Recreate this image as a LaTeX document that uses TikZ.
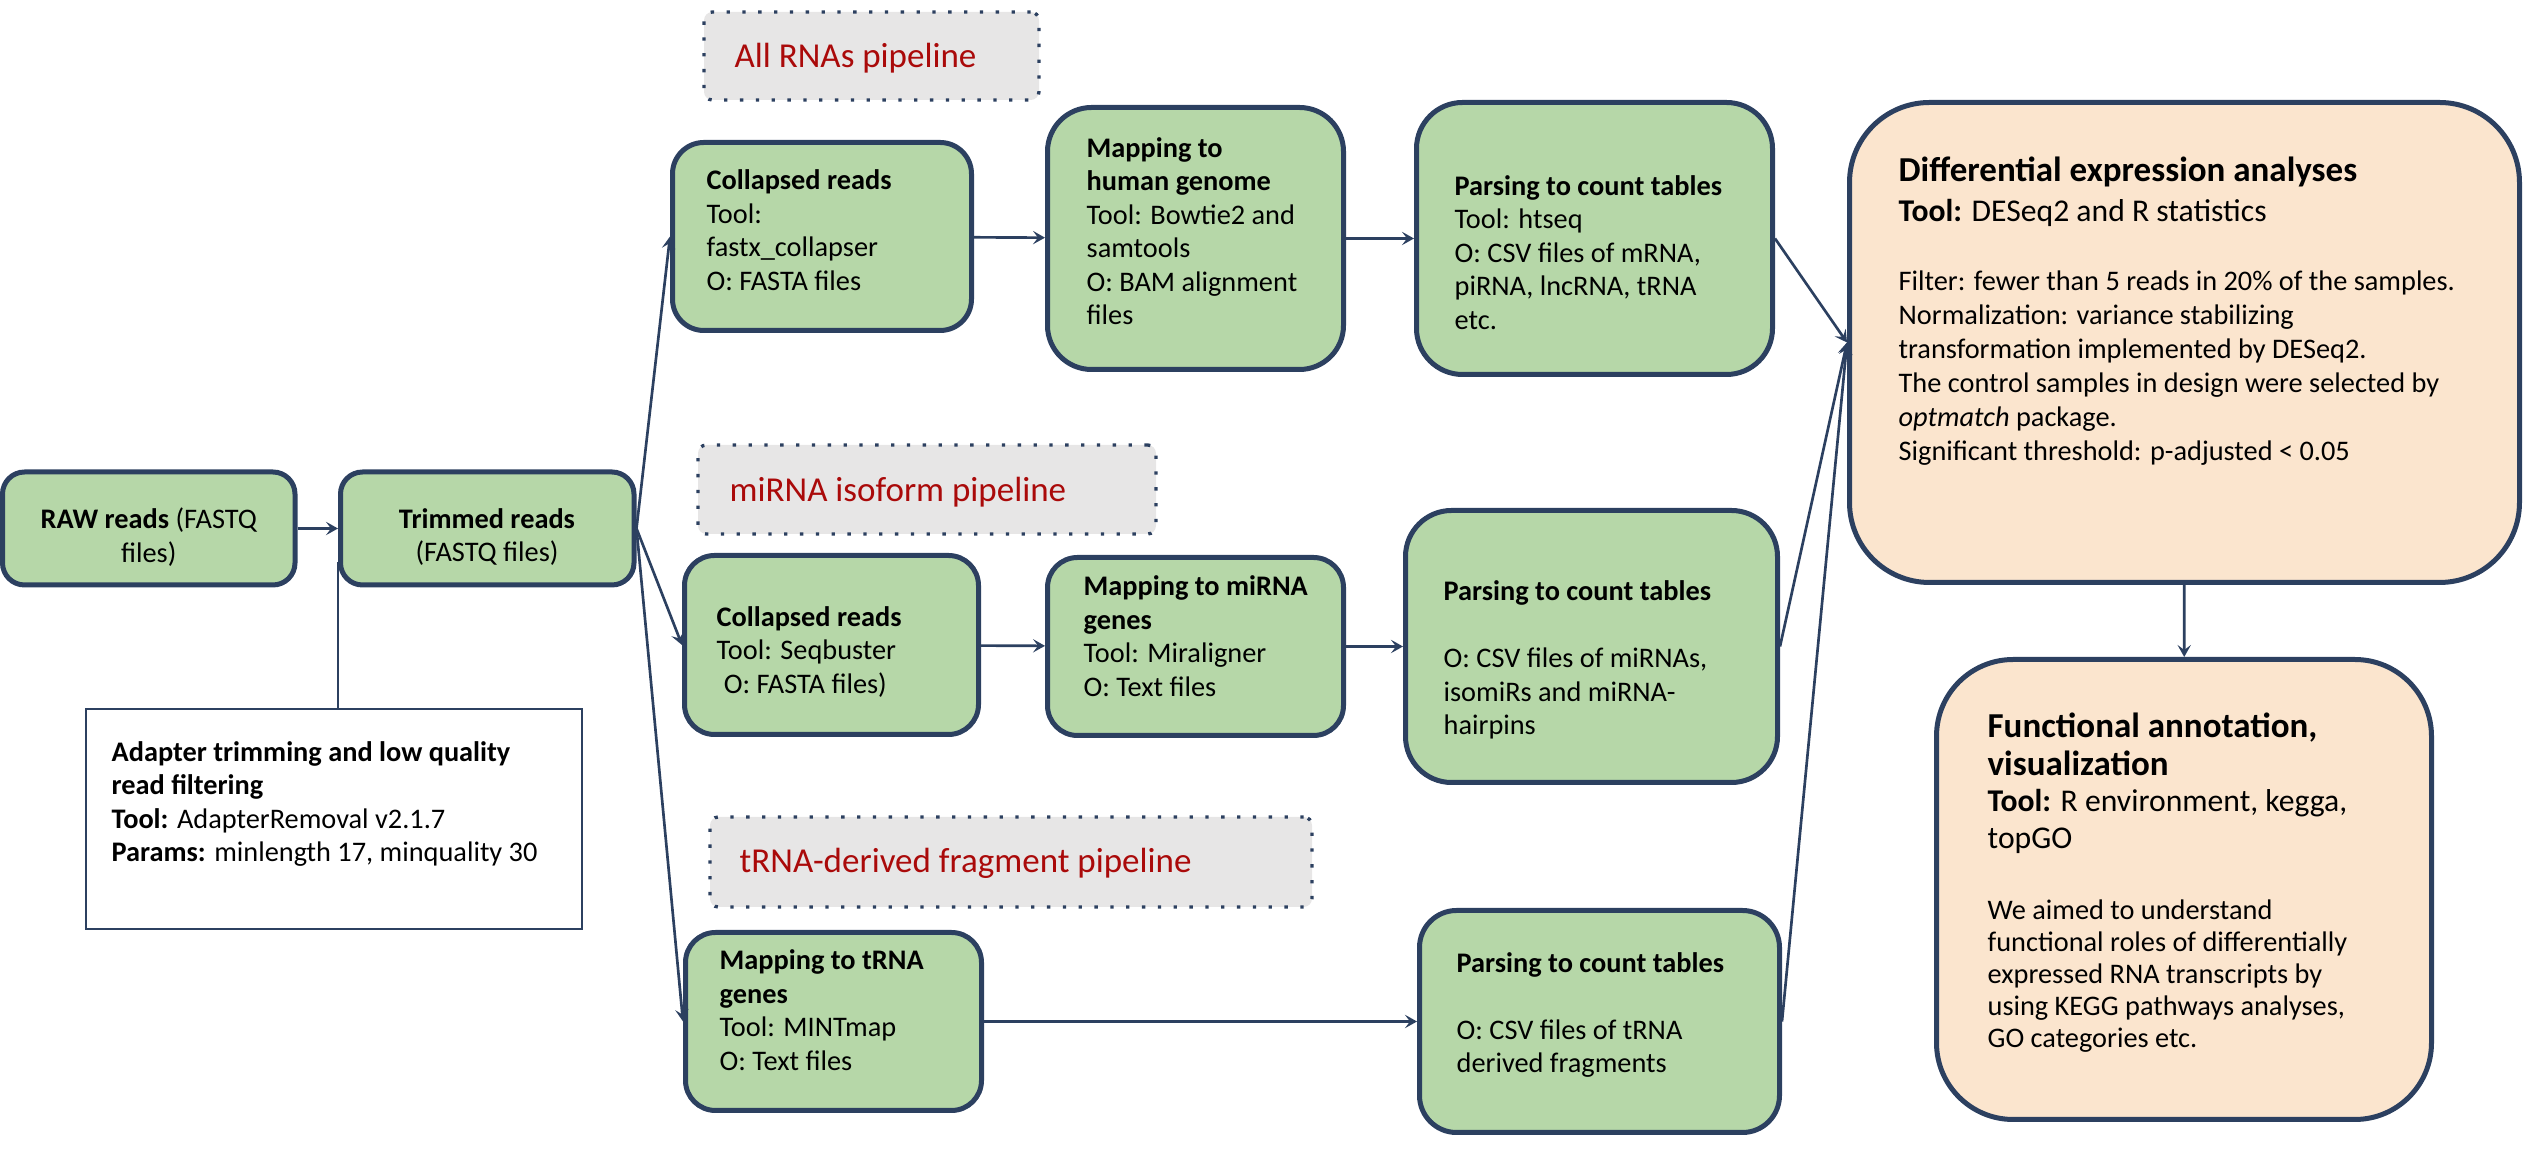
\documentclass[tikz,border=0pt]{standalone}
\usepackage{fontspec}
\setmainfont{Carlito}
\usetikzlibrary{arrows.meta,calc}
\definecolor{gfill}{RGB}{182,215,168}
\definecolor{navy}{RGB}{44,64,96}
\definecolor{peach}{RGB}{251,229,206}
\definecolor{lgray}{RGB}{231,230,230}
\definecolor{dred}{RGB}{170,10,10}
\begin{document}
\begin{tikzpicture}[x=0.3pt,y=-0.3pt,
  gbox/.style={draw=navy,fill=gfill,line width=1.5pt,inner sep=0pt},
  pbox/.style={draw=navy,fill=peach,line width=1.5pt,inner sep=0pt},
  lbl/.style={draw=navy,fill=lgray,line width=1pt,dash pattern=on 1pt off 3.75pt,rounded corners=2.5pt,inner sep=0pt},
  wbox/.style={draw=navy,fill=white,line width=0.6pt,inner sep=0pt},
  txt/.style={inner sep=0pt,anchor=west,align=left,font=\fontsize{8.5}{10.05}\selectfont},
  ctxt/.style={inner sep=0pt,align=center,font=\fontsize{8.5}{10.05}\selectfont},
  ltxt/.style={inner sep=0pt,anchor=west,text=dred,font=\fontsize{10.5}{12.6}\selectfont},
  arr/.style={draw=navy,line width=0.8pt,-{Stealth[length=3.6pt,width=4pt,inset=1.5pt]}},
  thin/.style={draw=navy,line width=0.6pt},
  ]
\useasboundingbox (0,0) rectangle (2526,1159);

% pipeline labels
\node[lbl,minimum width=100.5pt,minimum height=26.4pt] (l1) at (871.5,56) {};
\node[ltxt] (l1t) at (734,58) {All RNAs pipeline};
\node[lbl,minimum width=137.4pt,minimum height=26.7pt] (l2) at (927,489.5) {};
\node[ltxt] (l2t) at (729,492) {miRNA isoform pipeline};
\node[lbl,minimum width=180.6pt,minimum height=27pt] (l3) at (1011,862) {};
\node[ltxt] (l3t) at (739,863) {tRNA-derived fragment pipeline};

% left part
\node[gbox,minimum width=87.75pt,minimum height=33.9pt,rounded corners=6.6pt] (raw) at (148.75,528.5) {};
\node[ctxt] (rawt) at (148.75,537) {\textbf{RAW reads} (FASTQ\\files)};
\node[gbox,minimum width=88.05pt,minimum height=33.9pt,rounded corners=6.6pt] (trim) at (487.25,528.5) {};
\node[ctxt] (trimt) at (487,537) {\textbf{Trimmed reads}\\(FASTQ files)};
\node[wbox,minimum width=148.8pt,minimum height=66pt] (adapt) at (334,819) {};
\node[txt] (adaptt) at (111,804) {\textbf{Adapter trimming and low quality}\\\textbf{read filtering}\\\textbf{Tool:} AdapterRemoval v2.1.7\\\textbf{Params:} minlength 17, minquality 30};

% all RNAs row
\node[gbox,minimum width=89.7pt,minimum height=56.4pt,rounded corners=9.4pt] (col1) at (822,236.5) {};
\node[txt] (col1t) at (706,230) {\textbf{Collapsed reads}\\Tool:\\fastx\_collapser\\O: FASTA files};
\node[gbox,minimum width=88.8pt,minimum height=78.6pt,rounded corners=13.2pt] (map1) at (1195.5,238.5) {};
\node[txt] (map1t) at (1086,231) {\textbf{Mapping to}\\\textbf{human genome}\\Tool: Bowtie2 and\\samtools\\O: BAM alignment\\files};
\node[gbox,minimum width=106.8pt,minimum height=81.6pt,rounded corners=13.8pt] (par1) at (1594.5,238.5) {};
\node[txt] (par1t) at (1454,252.5) {\textbf{Parsing to count tables}\\Tool: htseq\\O: CSV files of mRNA,\\piRNA, lncRNA, tRNA\\etc.};

% miRNA row
\node[gbox,minimum width=88.2pt,minimum height=53.7pt,rounded corners=9pt] (col2) at (831.5,645) {};
\node[txt] (col2t) at (716,652) {\textbf{Collapsed reads}\\Tool: Seqbuster\\\hspace*{0.25em}O: FASTA files)};
\node[gbox,minimum width=88.8pt,minimum height=53.4pt,rounded corners=9pt] (map2) at (1195.5,646.5) {};
\node[txt] (map2t) at (1083,636) {\textbf{Mapping to miRNA}\\\textbf{genes}\\Tool: Miraligner\\O: Text files};
\node[gbox,minimum width=111.6pt,minimum height=81.6pt,rounded corners=13.8pt] (par2) at (1591.5,646.5) {};
\node[txt] (par2t) at (1443,660) {\textbf{Parsing to count tables}\\[10.05pt]O: CSV files of miRNAs,\\isomiRs and miRNA-\\hairpins};

% tRNA row
\node[gbox,minimum width=88.8pt,minimum height=53.4pt,rounded corners=9pt] (map3) at (833.5,1021.5) {};
\node[txt] (map3t) at (719,1010) {\textbf{Mapping to tRNA}\\\textbf{genes}\\Tool: MINTmap\\O: Text files};
\node[gbox,minimum width=108pt,minimum height=66.6pt,rounded corners=11.1pt] (par3) at (1599.5,1021.5) {};
\node[txt] (par3t) at (1456,1015) {\textbf{Parsing to count tables}\\[10.05pt]O: CSV files of tRNA\\derived fragments};

% right boxes
\node[pbox,minimum width=201pt,minimum height=144pt,rounded corners=24pt] (de) at (2184.5,342.5) {};
\node[txt,font=\fontsize{10.5}{12.6}\selectfont\bfseries] (det) at (1898,172) {Differential expression analyses};
\node[txt,font=\fontsize{9.5}{11.1}\selectfont] (detool) at (1898,213) {\textbf{Tool:} DESeq2 and R statistics};
\node[txt,font=\fontsize{8.5}{10.2}\selectfont] (deb) at (1898,368) {Filter: fewer than 5 reads in 20\% of the samples.\\Normalization: variance stabilizing\\transformation implemented by DESeq2.\\The control samples in design were selected by\\\textit{optmatch} package.\\Significant threshold: p-adjusted < 0.05};

\node[pbox,minimum width=148.5pt,minimum height=138pt,rounded corners=23pt] (fa) at (2184,889.5) {};
\node[txt,font=\fontsize{10.5}{11.4}\selectfont\bfseries] (fat) at (1987,744) {Functional annotation,\\visualization};
\node[txt,font=\fontsize{9.5}{11.1}\selectfont] (fatool) at (1987,821.5) {\textbf{Tool:} R environment, kegga,\\topGO};
\node[txt,font=\fontsize{8.5}{9.6}\selectfont] (fab) at (1987,976.5) {We aimed to understand\\functional roles of differentially\\expressed RNA transcripts by\\using KEGG pathways analyses,\\GO categories etc.};

% connectors
\draw[arr] (raw) -- (trim);
\draw[thin] ([yshift=7.5pt]trim.south west) -- (trim.south west |- adapt.north);
\draw[arr] (trim.east) -- (col1.west);
\draw[arr] (trim.east) -- (col2.west);
\draw[arr] (trim.east) -- (map3.west);
\draw[arr] (col1) -- (map1);
\draw[arr] (map1) -- (par1);
\draw[arr] (col2) -- (map2);
\draw[arr] (map2) -- (par2);
\draw[arr] (map3) -- (par3);
\draw[arr] (par1.east) -- (de.west);
\draw[arr] (par2.east) -- (de.west);
\draw[arr] (par3.east) -- (de.west);
\draw[arr] (de) -- (fa);
\end{tikzpicture}
\end{document}
